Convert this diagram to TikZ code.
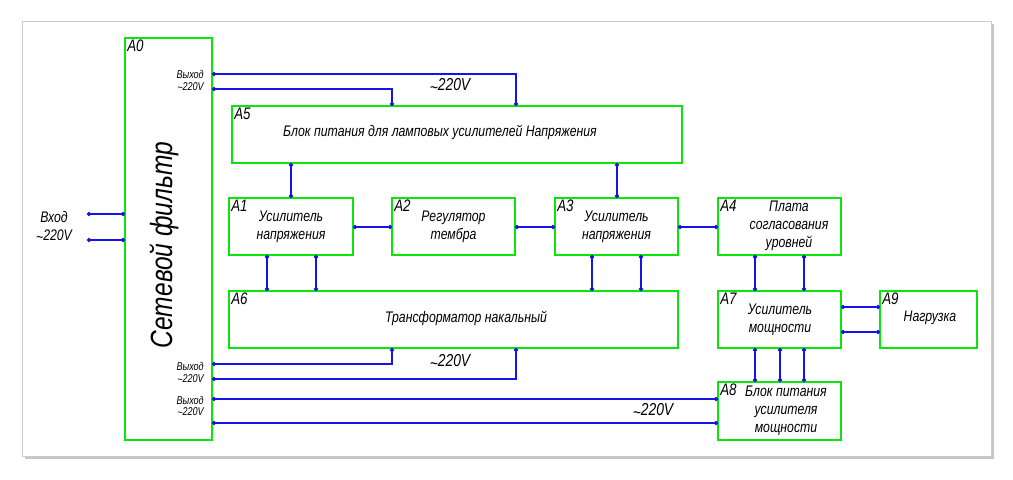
\documentclass[tikz,border=0pt]{standalone}
\usepackage{fontspec}
\setmainfont{Liberation Sans}
\newfontfamily\gost{Liberation Sans}[FakeStretch=0.8]
\usetikzlibrary{fit,arrows.meta}
\definecolor{bgreen}{RGB}{10,230,10}
\definecolor{wblue}{RGB}{20,20,230}
\newcommand{\tl}{\raisebox{-0.25ex}{\textasciitilde}}
\begin{document}
\begin{tikzpicture}[x=0.75pt,y=-0.75pt,
  blk/.style={draw=bgreen, line width=1.5pt, inner sep=0pt, outer sep=0pt},
  wire/.style={draw=wblue, line width=1.5pt, {Circle[length=3pt]}-{Circle[length=3pt]}},
  txt/.style={font=\gost\itshape\fontsize{11.5}{13.5}\selectfont, align=center, inner sep=0pt},
  big/.style={font=\gost\itshape\fontsize{23}{26}\selectfont, inner sep=0pt, rotate=90},
  tag/.style={font=\gost\itshape\fontsize{12.5}{14}\selectfont, anchor=north west, inner sep=1.5pt},
  tiny/.style={font=\gost\itshape\fontsize{8.5}{9}\selectfont, anchor=east, inner sep=0pt},
  volt/.style={font=\gost\itshape\fontsize{13}{15}\selectfont, inner sep=0pt}]
\useasboundingbox (0,0) rectangle (1013,479);
\fill[gray!45] (25,24) rectangle (994,459);
\draw[gray!40, fill=white] (22,21) rectangle (991,456);
% blocks
\node[blk, fit={(125,38)(212,440)}] (A0) {};
\node[blk, fit={(232,106)(682,163)}] (A5) {};
\node[blk, fit={(229,198)(353,255)}] (A1) {};
\node[blk, fit={(392,198)(515,255)}] (A2) {};
\node[blk, fit={(555,198)(678,255)}] (A3) {};
\node[blk, fit={(718,198)(841,255)}] (A4) {};
\node[blk, fit={(229,291)(678,348)}] (A6) {};
\node[blk, fit={(718,291)(841,348)}] (A7) {};
\node[blk, fit={(880,291)(977,348)}] (A9) {};
\node[blk, fit={(718,382)(841,440)}] (A8) {};
% tags
\foreach \n in {A0,A1,A2,A3,A4,A5,A6,A7,A8,A9}
  \node[tag] (tag\n) at (\n.north west) {\n};
% texts
\node[big] (tA0) at (164,245) {Сетевой фильтр};
\node[txt] (tA5) at (440,132) {Блок питания для ламповых усилителей Напряжения};
\node[txt] (tA1) at (A1.center) {Усилитель\\напряжения};
\node[txt] (tA2) at (A2.center) {Регулятор\\тембра};
\node[txt] (tA3) at (A3.center) {Усилитель\\напряжения};
\node[txt] (tA4) at (789,226) {Плата\\согласования\\уровней};
\node[txt] (tA6) at (466,318) {Трансформатор накальный};
\node[txt] (tA7) at (780,320) {Усилитель\\мощности};
\node[txt] (tA9) at (930,318) {Нагрузка};
\node[txt] (tA8) at (786,411) {Блок питания\\усилителя\\мощности};
\node[txt] (tin) at (54,227) {Вход\\\tl220V};
% small output labels
\node[tiny] (o1) at (204,74) {Выход};
\node[tiny] (o2) at (204,87) {\tl220V};
\node[tiny] (o3) at (204,366) {Выход};
\node[tiny] (o4) at (204,379) {\tl220V};
\node[tiny] (o5) at (204,400) {Выход};
\node[tiny] (o6) at (204,412) {\tl220V};
\node[volt] (v1) at (450,86) {\tl220V};
\node[volt] (v2) at (450,362) {\tl220V};
\node[volt] (v3) at (653,411) {\tl220V};
% wires
\draw[wire] (A0.east |- 0,74) -| (A5.north -| 516,0);
\draw[wire] (A0.east |- 0,89) -| (A5.north -| 392,0);
\draw[wire] (A5.south -| 291,0) -- (A1.north -| 291,0);
\draw[wire] (A5.south -| 617,0) -- (A3.north -| 617,0);
\draw[wire] (A1.east |- 0,227) -- (A2.west |- 0,227);
\draw[wire] (A2.east |- 0,227) -- (A3.west |- 0,227);
\draw[wire] (A3.east |- 0,227) -- (A4.west |- 0,227);
\foreach \x in {267,316} \draw[wire] (A1.south -| \x,0) -- (A6.north -| \x,0);
\foreach \x in {592,641} \draw[wire] (A3.south -| \x,0) -- (A6.north -| \x,0);
\foreach \x in {755,804} \draw[wire] (A4.south -| \x,0) -- (A7.north -| \x,0);
\foreach \x in {755,780,804} \draw[wire] (A7.south -| \x,0) -- (A8.north -| \x,0);
\foreach \y in {307,332} \draw[wire] (A7.east |- 0,\y) -- (A9.west |- 0,\y);
\draw[wire] (A6.south -| 392,0) |- (A0.east |- 0,364);
\draw[wire] (A6.south -| 516,0) |- (A0.east |- 0,379);
\draw[wire] (A0.east |- 0,399) -- (A8.west |- 0,399);
\draw[wire] (A0.east |- 0,423) -- (A8.west |- 0,423);
\coordinate (in1) at (87,214);
\coordinate (in2) at (87,240);
\draw[wire] (in1) -- (A0.west |- in1);
\draw[wire] (in2) -- (A0.west |- in2);
\end{tikzpicture}
\end{document}
